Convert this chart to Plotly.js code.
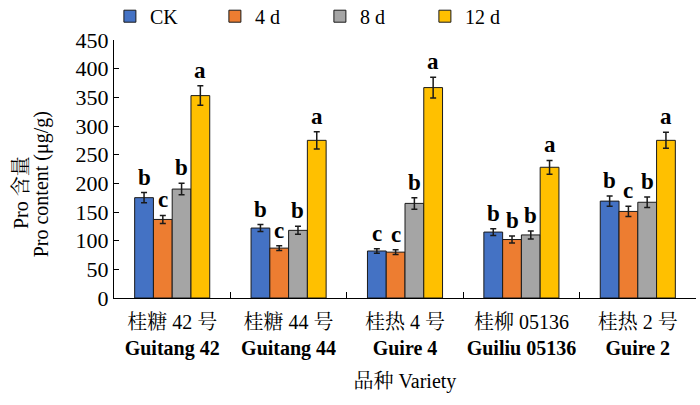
<!DOCTYPE html>
<html>
<head>
<meta charset="utf-8">
<script src="https://cdn.plot.ly/plotly-3.0.1.min.js"></script>
<style>
  html, body { margin: 0; padding: 0; background: #fff; }
  #chart { width: 700px; height: 405px; }
</style>
</head>
<body>
<div id="chart"></div>
<script>
// Varieties (Chinese name regular, English name bold)
const varieties = [
  '桂糖 42 号<br><b>Guitang 42</b>',
  '桂糖 44 号<br><b>Guitang 44</b>',
  '桂热 4 号<br><b>Guire 4</b>',
  '桂柳 05136<br><b>Guiliu 05136</b>',
  '桂热 2 号<br><b>Guire 2</b>'
];

// Treatment series
const seriesNames = ['CK', '4 d', '8 d', '12 d'];
const seriesColors = ['#4472C4', '#ED7D31', '#A5A5A5', '#FFC000'];

// Pro content (μg/g)
const ckValues = [175, 122, 82, 115, 169];
const d4Values = [137, 87, 80, 102, 151];
const d8Values = [190, 118, 165, 110, 167];
const d12Values = [353, 275, 367, 228, 275];

// Error bar sizes
const ckErr = [9, 6, 4, 6, 9];
const d4Err = [7, 4, 4, 6, 9];
const d8Err = [10, 7, 10, 7, 9];
const d12Err = [17, 15, 18, 12, 14];

// Significance letters
const ckLetters = ['b', 'b', 'c', 'b', 'b'];
const d4Letters = ['c', 'c', 'c', 'b', 'c'];
const d8Letters = ['b', 'b', 'b', 'b', 'b'];
const d12Letters = ['a', 'a', 'a', 'a', 'a'];

const allValues = [ckValues, d4Values, d8Values, d12Values];
const allErr = [ckErr, d4Err, d8Err, d12Err];
const allLetters = [ckLetters, d4Letters, d8Letters, d12Letters];

const font = 'Liberation Serif, Times New Roman, Noto Serif CJK SC, Noto Sans CJK SC, serif';
const barGap = 0.355;
const barWidth = (1 - barGap) / seriesNames.length;

const data = seriesNames.map((name, s) => ({
  type: 'bar',
  name: name,
  x: varieties,
  y: allValues[s],
  marker: {color: seriesColors[s], line: {color: '#1a1a1a', width: 1}},
  error_y: {type: 'data', array: allErr[s], visible: true, color: '#1a1a1a', thickness: 1.5, width: 3}
}));

// Letters sit just above each error bar
const annotations = [];
seriesNames.forEach((name, s) => {
  const offset = (s - (seriesNames.length - 1) / 2) * barWidth;
  allValues[s].forEach((v, i) => {
    annotations.push({
      x: i + offset,
      y: v + allErr[s][i],
      xref: 'x', yref: 'y',
      text: '<b>' + allLetters[s][i] + '</b>',
      showarrow: false,
      yanchor: 'bottom',
      yshift: 1,
      font: {family: font, size: 23, color: '#000'}
    });
  });
});

// Y axis title, two rotated lines placed by hand so the spacing stays tight
annotations.push({
  text: 'Pro 含量', textangle: -90, showarrow: false,
  xref: 'paper', yref: 'paper', x: -0.16, y: 0.41,
  xanchor: 'center', yanchor: 'middle',
  font: {family: font, size: 20, color: '#000'}
});
annotations.push({
  text: 'Pro content (μg/g)', textangle: -90, showarrow: false,
  xref: 'paper', yref: 'paper', x: -0.124, y: 0.44,
  xanchor: 'center', yanchor: 'middle',
  font: {family: font, size: 20, color: '#000'}
});

const layout = {
  width: 700,
  height: 405,
  margin: {l: 114, r: 4, t: 40, b: 107},
  paper_bgcolor: '#fff',
  plot_bgcolor: '#fff',
  font: {family: font, size: 20, color: '#000'},
  barmode: 'group',
  bargap: barGap,
  bargroupgap: 0,
  showlegend: true,
  legend: {
    orientation: 'h',
    xref: 'container', yref: 'container',
    x: 0.157, y: 0.96,
    xanchor: 'left', yanchor: 'middle',
    entrywidth: 60,
    font: {family: font, size: 20, color: '#000'},
    traceorder: 'normal'
  },
  xaxis: {
    type: 'category',
    showline: true,
    linecolor: '#000',
    linewidth: 1,
    ticks: 'inside',
    tickson: 'boundaries',
    ticklen: 6,
    tickcolor: '#000',
    showgrid: false,
    tickangle: 0,
    ticklabelstandoff: 6,
    tickfont: {family: font, size: 20, color: '#000'},
    title: {text: '品种 Variety', font: {family: font, size: 20, color: '#000'}, standoff: 14}
  },
  yaxis: {
    range: [0, 450],
    dtick: 50,
    showline: true,
    linecolor: '#000',
    linewidth: 1,
    ticks: 'inside',
    ticklen: 5,
    tickcolor: '#000',
    showgrid: false,
    zeroline: false,
    tickfont: {family: font, size: 22, color: '#000'}
  },
  annotations: annotations
};

Plotly.newPlot('chart', data, layout, {displayModeBar: false, staticPlot: true});
</script>
</body>
</html>
